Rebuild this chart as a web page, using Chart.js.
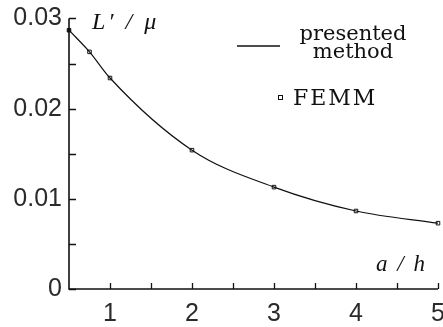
<!DOCTYPE html>
<html>
<head>
<meta charset="utf-8">
<script src="https://cdn.jsdelivr.net/npm/chart.js@4"></script>
<style>
  html, body { margin: 0; padding: 0; background: #fff; }
  #wrap { width: 443px; height: 327px; position: relative; }
</style>
</head>
<body>
<div id="wrap"><canvas id="chart"></canvas></div>
<script>
/* ---------- data ---------- */
const ratioAH = [0.5, 0.75, 1, 2, 3, 4, 5];
const presentedMethod = [0.0287, 0.0263, 0.0234, 0.0154, 0.0113, 0.00865, 0.0073];
const femm = [0.0287, 0.0263, 0.0234, 0.0154, 0.0113, 0.00865, 0.0073];
const yTickLabels = ["0", "0.01", "0.02", "0.03"];
const xTickLabels = ["1", "2", "3", "4", "5"];

const toXY = (xs, ys) => xs.map((x, i) => ({x: x, y: ys[i]}));

/* ---------- axes, inward ticks, titles, legend ---------- */
const frame = {
    id: "frame",
    beforeDatasetsDraw(chart) {
        const ctx = chart.ctx;
        const xs = chart.scales.x, ys = chart.scales.y;
        const x0 = xs.getPixelForValue(0.5), x1 = xs.getPixelForValue(5);
        const y0 = ys.getPixelForValue(0), y1 = ys.getPixelForValue(0.03);
        ctx.save();
        ctx.strokeStyle = "#111";
        ctx.lineWidth = 1.6;
        ctx.beginPath();
        ctx.moveTo(x0, y1); ctx.lineTo(x0, y0); ctx.lineTo(x1, y0);
        ctx.stroke();
        ctx.lineWidth = 1.3;
        ctx.beginPath();
        for (let v = 0; v <= 0.03 + 1e-9; v += 0.005) {
            const p = Math.round(ys.getPixelForValue(v)) + 0.5;
            ctx.moveTo(x0, p); ctx.lineTo(x0 + 7, p);
        }
        for (let v = 1; v <= 5 + 1e-9; v += 0.5) {
            const p = Math.round(xs.getPixelForValue(v)) + 0.5;
            ctx.moveTo(p, y0); ctx.lineTo(p, y0 - 6);
        }
        ctx.stroke();
        ctx.restore();
    },
    afterDraw(chart) {
        const ctx = chart.ctx;
        ctx.save();
        ctx.fillStyle = "#111";
        ctx.textBaseline = "alphabetic";
        // axis titles
        ctx.font = "italic 24px 'Liberation Serif'";
        ctx.letterSpacing = "3px";
        ctx.fillText("L′ / μ", 92, 29);
        ctx.font = "italic 23px 'Liberation Serif'";
        ctx.letterSpacing = "2px";
        ctx.fillText("a / h", 376, 271);
        // legend
        ctx.letterSpacing = "0px";
        ctx.font = "21px 'DejaVu Serif'";
        ctx.textAlign = "center";
        ctx.fillText("presented", 353, 40);
        ctx.fillText("method", 353, 58);
        ctx.textAlign = "left";
        ctx.font = "22px 'DejaVu Serif'";
        ctx.letterSpacing = "2px";
        ctx.fillText("FEMM", 293, 105);
        ctx.strokeStyle = "#111";
        ctx.lineWidth = 1.4;
        ctx.beginPath();
        ctx.moveTo(237, 46); ctx.lineTo(280, 46);
        ctx.stroke();
        ctx.fillStyle = "#fff";
        ctx.lineWidth = 1;
        ctx.fillRect(278.5, 95.5, 4, 4);
        ctx.strokeRect(278.5, 95.5, 4, 4);
        ctx.restore();
    }
};

/* ---------- chart ---------- */
new Chart(document.getElementById("chart"), {
    type: "line",
    data: {
        datasets: [{
            label: "presented method",
            data: toXY(ratioAH, presentedMethod),
            borderColor: "#111",
            borderWidth: 1.2,
            pointRadius: 0,
            cubicInterpolationMode: "monotone",
            fill: false
        }, {
            label: "FEMM",
            data: toXY(ratioAH, femm),
            showLine: false,
            clip: false,
            pointStyle: "rect",
            pointRadius: 2.5,
            pointBackgroundColor: c => c.dataIndex === 0 ? "#111" : "#fff",
            pointBorderColor: "#111",
            pointBorderWidth: 1
        }]
    },
    options: {
        responsive: true,
        maintainAspectRatio: false,
        animation: false,
        layout: { padding: { top: 18.5, right: 5, left: 0, bottom: 0 } },
        plugins: { legend: { display: false }, tooltip: { enabled: false } },
        scales: {
            x: {
                type: "linear",
                min: 0.5, max: 5,
                border: { display: false },
                grid: { display: false, drawTicks: false },
                ticks: {
                    stepSize: 0.5,
                    autoSkip: false,
                    maxRotation: 0,
                    padding: 10,
                    color: "#2a2a2a",
                    font: { family: "'Liberation Sans'", size: 25 },
                    callback: v => Number.isInteger(v) && xTickLabels.includes(String(v)) ? String(v) : ""
                },
                afterFit(s) { s.height = 38; s.paddingLeft = 0; s.paddingRight = 0; }
            },
            y: {
                min: 0, max: 0.03,
                border: { display: false },
                grid: { display: false, drawTicks: false },
                ticks: {
                    stepSize: 0.005,
                    autoSkip: false,
                    padding: 7,
                    color: "#2a2a2a",
                    font: { family: "'Liberation Sans'", size: 25 },
                    callback: v => {
                        const i = Math.round(v * 100);
                        return Math.abs(v * 100 - i) < 1e-6 ? yTickLabels[i] : "";
                    }
                },
                afterFit(s) { s.width = 69; s.paddingTop = 0; s.paddingBottom = 0; }
            }
        }
    },
    plugins: [frame]
});
</script>
</body>
</html>
